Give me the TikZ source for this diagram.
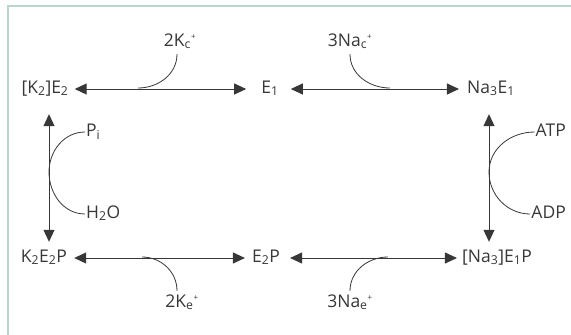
\documentclass[tikz,border=0pt]{standalone}
\usepackage{fontspec}
\setmainfont{Open Sans}
\usepackage{tikz}
\usetikzlibrary{arrows.meta}
\usepackage{xcolor}
\definecolor{inkgrey}{RGB}{55,55,55}
\definecolor{framegreen}{RGB}{185,214,206}
\newcommand{\ionc}[2]{#1\textsubscript{#2}\textsuperscript{\footnotesize +}}
\tikzset{
  species/.style={font=\fontsize{17.5}{20}\selectfont, text=inkgrey, inner sep=3pt,
    text height=13pt, text depth=5pt},
  sidelabel/.style={species, inner sep=1pt},
  eqarrow/.style={{Triangle[length=12pt,width=11pt]}-{Triangle[length=12pt,width=11pt]},
    draw=inkgrey, line width=1pt},
  feedline/.style={draw=inkgrey, line width=0.8pt}
}
\begin{document}
\begin{tikzpicture}[x=1pt,y=-1pt]
  \useasboundingbox (0,0) rectangle (571,335);
  % frame
  \draw[framegreen, line width=1.2pt] (8,335) -- (8,6) -- (571,6);

  % species
  \node[species] (k2e2)  at (45,89)  {[K\textsubscript{2}]E\textsubscript{2}};
  \node[species] (e1)    at (270,89) {E\textsubscript{1}};
  \node[species] (na3e1) at (491,89) {Na\textsubscript{3}E\textsubscript{1}};
  \node[species] (k2e2p) at (44,258) {K\textsubscript{2}E\textsubscript{2}P};
  \node[species] (e2p)   at (266,258) {E\textsubscript{2}P};
  \node[species] (na3e1p) at (497,258) {[Na\textsubscript{3}]E\textsubscript{1}P};

  % ions and nucleotides
  \node[species] (kc)  at (180,42)  {2\ionc{K}{c}};
  \node[species] (nac) at (350,42)  {3\ionc{Na}{c}};
  \node[species] (ke)  at (182,303) {2\ionc{K}{e}};
  \node[species] (nae) at (350,303) {3\ionc{Na}{e}};
  \node[sidelabel, anchor=west] (pi)  at (85,132)  {P\textsubscript{i}};
  \node[sidelabel, anchor=west] (h2o) at (85,214)  {H\textsubscript{2}O};
  \node[sidelabel, anchor=east] (atp) at (567,132) {ATP};
  \node[sidelabel, anchor=east] (adp) at (567,214) {ADP};

  % join points
  \coordinate (kcin)  at (138,88);
  \coordinate (nacin) at (390,88);
  \coordinate (kein)  at (142,257);
  \coordinate (naein) at (388,257);
  \coordinate (lmid)  at (49,172);
  \coordinate (rmid)  at (489,172);

  % reversible steps
  \draw[eqarrow, shorten <=3pt, shorten >=12pt] (k2e2) -- (e1);
  \draw[eqarrow, shorten <=9pt, shorten >=5pt] (e1) -- (na3e1);
  \draw[eqarrow, shorten <=4pt, shorten >=4pt] (k2e2p) -- (e2p);
  \draw[eqarrow, shorten <=7pt, shorten >=2pt] (e2p) -- (na3e1p);
  \draw[eqarrow, shorten <=13pt, shorten >=4pt]
    ([xshift=4pt]k2e2.south) -- ([xshift=4pt]k2e2.south |- k2e2p.north);
  \draw[eqarrow, shorten <=13pt, shorten >=4pt]
    ([xshift=-2pt]na3e1.south) -- ([xshift=-2pt]na3e1.south |- na3e1p.north);

  % side reactions
  \draw[feedline] ([xshift=-3pt]kc.south)  to[out=-90, in=0]   (kcin);
  \draw[feedline] (nac.south) to[out=-90, in=180] (nacin);
  \draw[feedline] ([xshift=-5pt]ke.north)  to[out=90, in=0]   (kein);
  \draw[feedline] (nae.north) to[out=90, in=180]  (naein);
  \draw[feedline] (pi.west)  to[out=180, in=90]  (lmid);
  \draw[feedline] (h2o.west) to[out=180, in=-90] (lmid);
  \draw[feedline] (atp.west) to[out=180, in=90]  (rmid);
  \draw[feedline] (adp.west) to[out=180, in=-90] (rmid);
\end{tikzpicture}
\end{document}
